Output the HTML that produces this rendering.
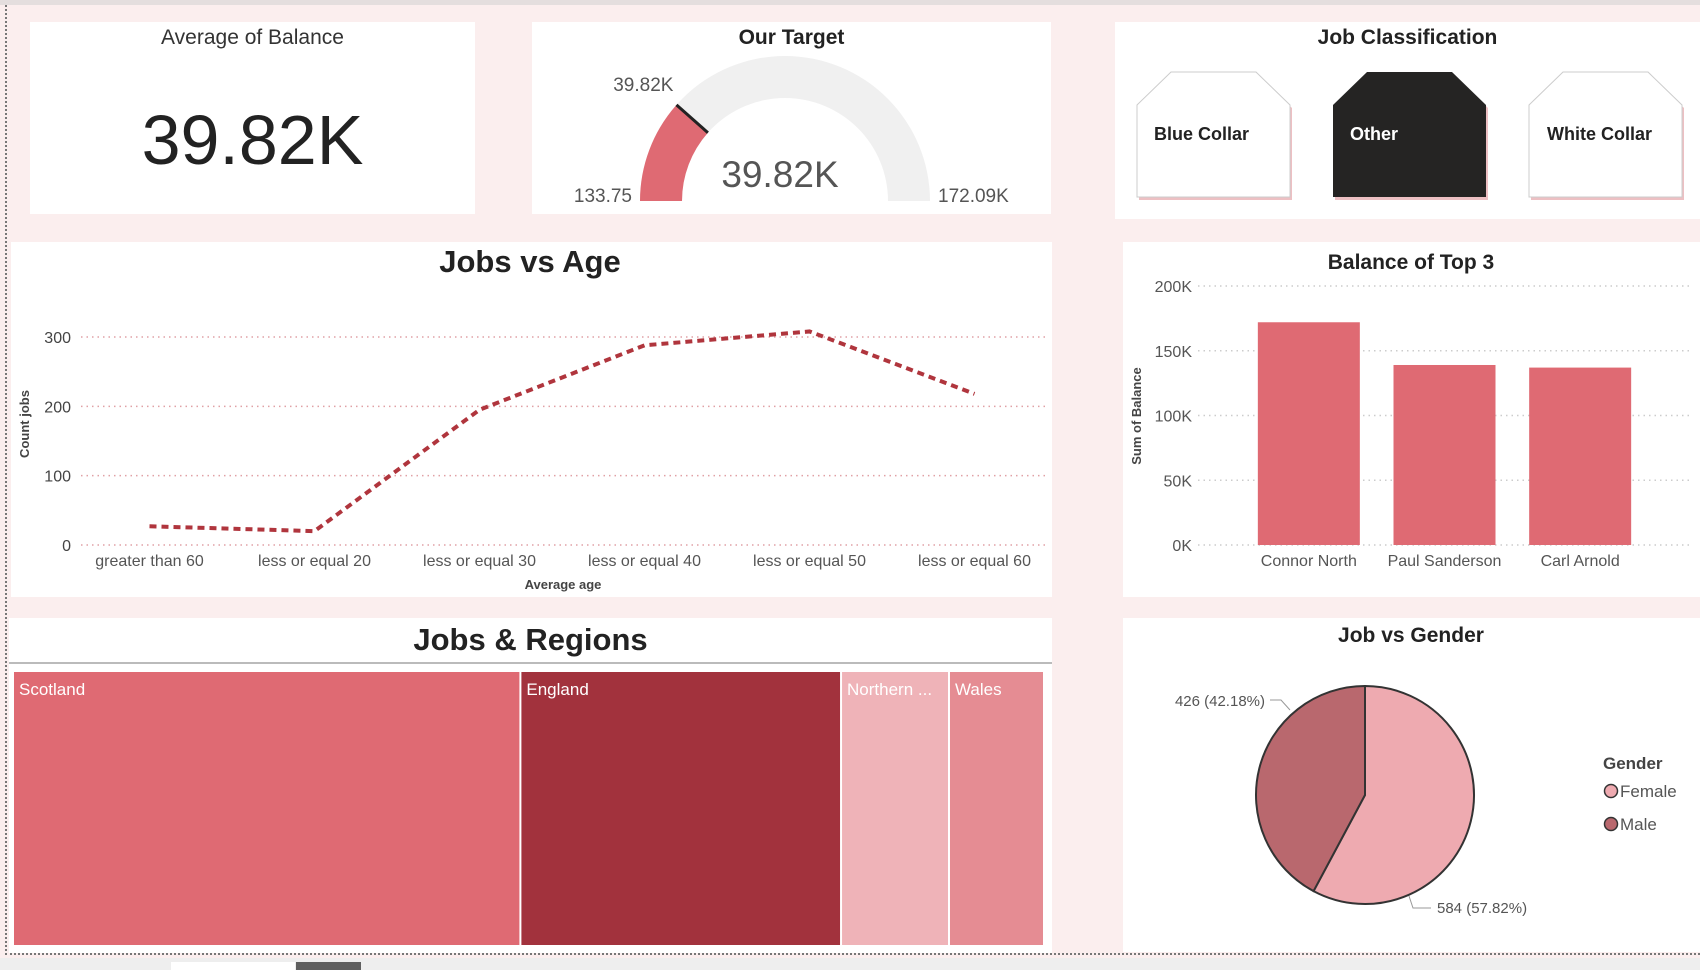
<!DOCTYPE html>
<html><head><meta charset="utf-8">
<style>
*{margin:0;padding:0;box-sizing:border-box}
body{width:1700px;height:970px;background:#fbeeee;font-family:"Liberation Sans","DejaVu Sans",sans-serif;position:relative;overflow:hidden}
.card{position:absolute;background:#fff}
</style></head>
<body>
<div style="position:absolute;left:0;top:0;width:1700px;height:5px;background:#e4dede"></div>
<div style="position:absolute;left:5px;top:5px;width:0;height:950px;border-left:2px dotted #777"></div>
<div style="position:absolute;left:5px;top:953px;width:1695px;height:0;border-top:2px dotted #777"></div>
<div style="position:absolute;left:0;top:958px;width:1700px;height:12px;background:#eeeeee"></div>
<div style="position:absolute;left:171px;top:962px;width:124px;height:8px;background:#fff"></div>
<div style="position:absolute;left:296px;top:962px;width:65px;height:8px;background:#5f5f5f"></div>

<div class="card" style="left:30px;top:22px;width:445px;height:192px">
  <div style="position:absolute;top:4px;width:100%;text-align:center;font-size:21px;color:#333">Average of Balance</div>
  <div style="position:absolute;top:78px;width:100%;text-align:center;font-size:70px;color:#222">39.82K</div>
</div>

<div class="card" style="left:532px;top:22px;width:519px;height:192px">
  <div style="position:absolute;top:4px;width:100%;text-align:center;font-size:21px;font-weight:bold;color:#222">Our Target</div>
  <svg id="gauge" width="519" height="192" style="position:absolute;left:0;top:0"></svg>
</div>

<div class="card" style="left:1115px;top:22px;width:585px;height:197px">
  <div style="position:absolute;top:4px;width:100%;text-align:center;font-size:21px;font-weight:bold;color:#222">Job Classification</div>
  <svg width="585" height="197" style="position:absolute;left:0;top:0">
    <g>
      <polygon points="22,83 56,50 141,50 175,83 175,175 22,175" fill="#edc0c3" transform="translate(2,3)"/>
      <polygon points="22,83 56,50 141,50 175,83 175,175 22,175" fill="#fff" stroke="#ccc"/>
      <text x="39" y="118" font-size="18" font-weight="bold" fill="#222">Blue Collar</text>
    </g>
    <g>
      <polygon points="218,83 252,50 337,50 371,83 371,175 218,175" fill="#edc0c3" transform="translate(2,3)"/>
      <polygon points="218,83 252,50 337,50 371,83 371,175 218,175" fill="#252423"/>
      <text x="235" y="118" font-size="18" font-weight="bold" fill="#fff">Other</text>
    </g>
    <g>
      <polygon points="414,83 448,50 533,50 567,83 567,175 414,175" fill="#edc0c3" transform="translate(2,3)"/>
      <polygon points="414,83 448,50 533,50 567,83 567,175 414,175" fill="#fff" stroke="#ccc"/>
      <text x="432" y="118" font-size="18" font-weight="bold" fill="#222">White Collar</text>
    </g>
  </svg>
</div>

<div class="card" style="left:11px;top:242px;width:1041px;height:355px">
  <svg id="line" width="1041" height="355"></svg>
</div>

<div class="card" style="left:1123px;top:242px;width:577px;height:355px">
  <svg id="bar" width="577" height="355"></svg>
</div>

<div class="card" style="left:9px;top:618px;width:1043px;height:335px">
  <div style="position:absolute;top:4px;width:100%;text-align:center;font-size:31px;font-weight:bold;color:#222">Jobs &amp; Regions</div>
  <div style="position:absolute;left:0;top:44px;width:100%;height:2px;background:#bbb"></div>
  <svg id="tree" width="1043" height="335" style="position:absolute;left:0;top:0"></svg>
</div>

<div class="card" style="left:1123px;top:618px;width:577px;height:334px">
  <svg id="pie" width="577" height="334"></svg>
</div>

<script>
const NS='http://www.w3.org/2000/svg';
function mk(p,tag,a){const e=document.createElementNS(NS,tag);for(const k in a)e.setAttribute(k,a[k]);p.appendChild(e);return e;}
function tx(p,x,y,s,a){const e=mk(p,'text',Object.assign({x:x,y:y},a));e.textContent=s;return e;}

// Gauge
const gaugeMin=133.75, gaugeMax=172090, gaugeValue=39820;
const gaugeLabels=['133.75','172.09K','39.82K'];
(function(){
 const g=document.getElementById('gauge');const cx=253,cy=179,R=145,r=103;
 function arc(a0,a1){const p=(a,rr)=>[cx+rr*Math.cos(a),cy-rr*Math.sin(a)];
  const [x0,y0]=p(a0,R),[x1,y1]=p(a1,R),[x2,y2]=p(a1,r),[x3,y3]=p(a0,r);
  return `M${x0},${y0}A${R},${R} 0 0 1 ${x1},${y1}L${x2},${y2}A${r},${r} 0 0 0 ${x3},${y3}Z`;}
 const f=(gaugeValue-gaugeMin)/(gaugeMax-gaugeMin);const av=Math.PI*(1-f);
 let e=mk(g,'path',{d:arc(Math.PI,0),fill:'#f0f0f0'});
 
 e=mk(g,'path',{d:arc(Math.PI,av),fill:'#df6a73'});
 
 e=mk(g,'line',{x1:cx+r*Math.cos(av),y1:cy-r*Math.sin(av),x2:cx+R*Math.cos(av),y2:cy-R*Math.sin(av),stroke:'#222','stroke-width':3});
 
 e=tx(g,cx-R-8,180,gaugeLabels[0],{'font-size':19,fill:'#555','text-anchor':'end'});
 
 e=tx(g,cx+R+8,180,gaugeLabels[1],{'font-size':19,fill:'#555'});
 
 e=tx(g,cx+R*Math.cos(av)-3,cy-R*Math.sin(av)-14,gaugeLabels[2],{'font-size':19,fill:'#555','text-anchor':'end'});
 
 e=tx(g,cx-5,165,gaugeLabels[2],{'font-size':37,fill:'#555','text-anchor':'middle'});
 
})();

// Line chart
const ageCats=['greater than 60','less or equal 20','less or equal 30','less or equal 40','less or equal 50','less or equal 60'];
const jobCounts=[27,20,195,288,308,218];
const lineTicks=[0,100,200,300];
(function(){
 const s=document.getElementById('line');
 const x0=56,x1=1046,gx1=1035,y=v=>303-v*(303-95)/300;
 const bw=(x1-x0)/ageCats.length;const xc=i=>x0+bw*(i+0.5);
 let e=tx(s,519,30,'Jobs vs Age',{'font-size':31,'font-weight':'bold',fill:'#222','text-anchor':'middle'});
 
 lineTicks.forEach(t=>{
  e=mk(s,'line',{x1:70,x2:gx1,y1:y(t),y2:y(t),stroke:'#e0a0a5','stroke-dasharray':'1.5,4','stroke-width':1.5});
  
  e=tx(s,60,y(t)+6,String(t),{'font-size':16,fill:'#444','text-anchor':'end'});
  
 });
 ageCats.forEach((c,i)=>{
  e=tx(s,xc(i),324,c,{'font-size':16,fill:'#555','text-anchor':'middle'});
  
 });
 e=tx(s,552,347,'Average age',{'font-size':13,'font-weight':'bold',fill:'#444','text-anchor':'middle'});
 
 e=tx(s,0,0,'Count jobs',{'font-size':13,'font-weight':'bold',fill:'#444','text-anchor':'middle',transform:'translate(18,182) rotate(-90)'});
 
 e=mk(s,'polyline',{points:jobCounts.map((v,i)=>xc(i)+','+y(v)).join(' '),fill:'none',stroke:'#b0353d','stroke-width':4,'stroke-dasharray':'7,5'});
 
})();

// Bar chart
const people=['Connor North','Paul Sanderson','Carl Arnold'];
const balances=[172,139,137];
const barTicks=[0,50,100,150,200];
(function(){
 const s=document.getElementById('bar');
 const x0=118,x1=525,y=v=>303-v*(303-44)/200;
 const bw=(x1-x0)/people.length;
 let e=tx(s,288,27,'Balance of Top 3',{'font-size':21,'font-weight':'bold',fill:'#222','text-anchor':'middle'});
 
 barTicks.forEach(t=>{
  e=mk(s,'line',{x1:75,x2:568,y1:y(t),y2:y(t),stroke:'#ccc','stroke-dasharray':'1.5,4','stroke-width':1.5});
  
  e=tx(s,69,y(t)+6,t+'K',{'font-size':16,fill:'#555','text-anchor':'end'});
  
 });
 e=tx(s,0,0,'Sum of Balance',{'font-size':13,'font-weight':'bold',fill:'#444','text-anchor':'middle',transform:'translate(18,174) rotate(-90)'});
 
 people.forEach((p,i)=>{
  const cx=x0+bw*(i+0.5);
  e=mk(s,'rect',{x:cx-51,y:y(balances[i]),width:102,height:y(0)-y(balances[i]),fill:'#df6a73'});
  
  e=tx(s,cx,324,p,{'font-size':16,fill:'#555','text-anchor':'middle'});
  
 });
})();

// Treemap
const regions=['Scotland','England','Northern ...','Wales'];
const regionJobs=[470,297,100,88];
const regionColors=['#df6a73','#a2323d','#efb3b8','#e58c93'];
(function(){
 const s=document.getElementById('tree');
 const X0=5,W=1031,Y=54,H=273;const tot=regionJobs.reduce((a,b)=>a+b,0);
 let x=X0;
 regions.forEach((r,i)=>{
  const w=W*regionJobs[i]/tot;
  let e=mk(s,'rect',{x:x,y:Y,width:w-2,height:H,fill:regionColors[i]});
  
  e=tx(s,x+5,Y+23,r,{'font-size':17,fill:'#fff'});
  
  x+=w;
 });
})();

// Pie
const genders=['Female','Male'];
const genderCounts=[584,426];
const genderColors=['#eeaab0','#b9686e'];
(function(){
 const s=document.getElementById('pie');
 const cx=242,cy=177,R=109;const tot=genderCounts[0]+genderCounts[1];
 let e=tx(s,288,24,'Job vs Gender',{'font-size':21,'font-weight':'bold',fill:'#222','text-anchor':'middle'});
 
 let a=0;
 genderCounts.forEach((v,i)=>{
  const a1=a+2*Math.PI*v/tot;
  const p=t=>[cx+R*Math.sin(t),cy-R*Math.cos(t)];
  const [xa,ya]=p(a),[xb,yb]=p(a1);
  e=mk(s,'path',{d:`M${cx},${cy}L${xa},${ya}A${R},${R} 0 ${a1-a>Math.PI?1:0} 1 ${xb},${yb}Z`,fill:genderColors[i],stroke:'#333','stroke-width':2});
  
  a=a1;
 });
 const pct=v=>(v/tot*100).toFixed(2)+'%';
 e=tx(s,314,295,genderCounts[0]+' ('+pct(genderCounts[0])+')',{'font-size':15,fill:'#555'});
 
 e=mk(s,'polyline',{points:'286,278 290,290 308,290',fill:'none',stroke:'#999'});
 
 e=tx(s,142,88,genderCounts[1]+' ('+pct(genderCounts[1])+')',{'font-size':15,fill:'#555','text-anchor':'end'});
 
 e=mk(s,'polyline',{points:'147,82 158,82 167,92',fill:'none',stroke:'#999'});
 
 e=tx(s,480,151,'Gender',{'font-size':17,'font-weight':'bold',fill:'#444'});
 
 genders.forEach((g,i)=>{
  e=mk(s,'circle',{cx:488,cy:173+i*33,r:6.5,fill:genderColors[i],stroke:'#333','stroke-width':1.5});
  
  e=tx(s,497,179+i*33,g,{'font-size':17,fill:'#555'});
  
 });
})();
</script>
</body></html>
